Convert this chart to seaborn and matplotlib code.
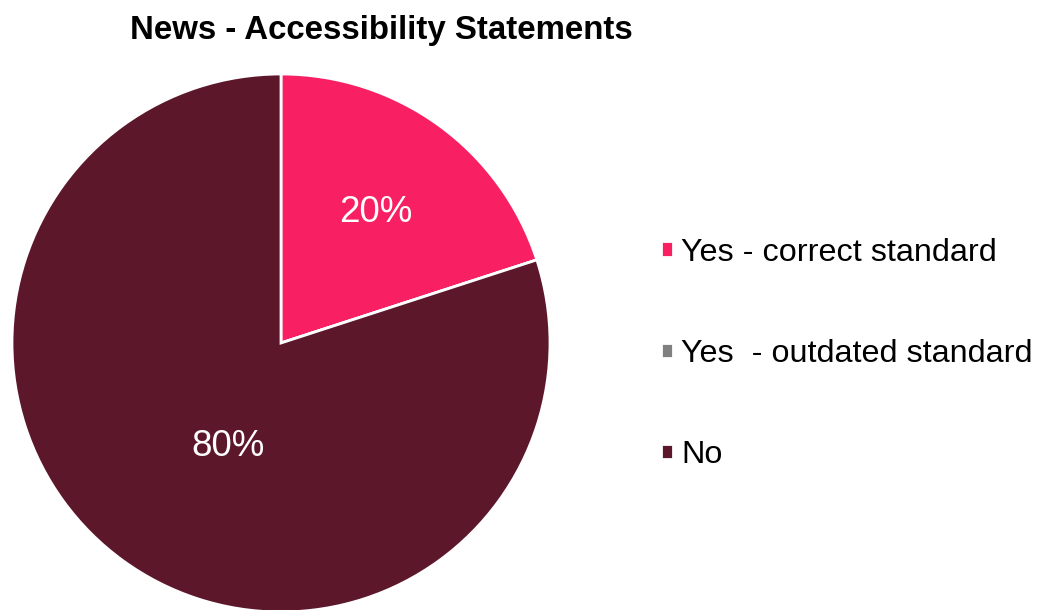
import matplotlib
matplotlib.use("Agg")
import matplotlib.pyplot as plt
import seaborn as sns
import numpy as np

categories = ["Yes - correct standard", "Yes  - outdated standard", "No"]
values = [20, 0, 80]
colors = ["#F81F62", "#808080", "#5C172B"]
title = "News - Accessibility Statements"

sns.set_theme(style="white")
plt.rcParams["font.family"] = ["Liberation Sans", "DejaVu Sans"]

fig = plt.figure(figsize=(10.47, 6.10), dpi=100)
ax = fig.add_axes([12 / 1047, (610 - 612) / 610, 538 / 1047, 538 / 610])

def fmt(p):
    return f"{p:.0f}%" if p > 0.5 else ""

wedges, texts, autotexts = ax.pie(
    values, colors=colors, startangle=90, counterclock=False,
    autopct=fmt, pctdistance=0.6,
    wedgeprops=dict(edgecolor="white", linewidth=2),
    textprops=dict(color="white", fontsize=26.5),
)
ax.set_xlim(-1, 1)
ax.set_ylim(-1, 1)
ax.set_aspect("equal")
ax.axis("off")

# Excel-like placement of the large-slice label
ang = np.deg2rad(-117)
autotexts[2].set_position((0.43 * np.cos(ang), 0.43 * np.sin(ang)))

fig.text(381 / 1047, 1 - 31 / 610, title, ha="center", va="center",
         fontsize=23.8, fontweight="bold", color="black")

leg = fig.legend(
    wedges, categories, loc="center left",
    bbox_to_anchor=(661 / 1047, 1 - 354 / 610),
    frameon=False, fontsize=23.3, handlelength=0.36, handleheight=0.36,
    handletextpad=0.27, labelspacing=2.2, borderpad=0, borderaxespad=0,
    labelcolor="black",
)

fig.savefig("out.png", dpi=100)
